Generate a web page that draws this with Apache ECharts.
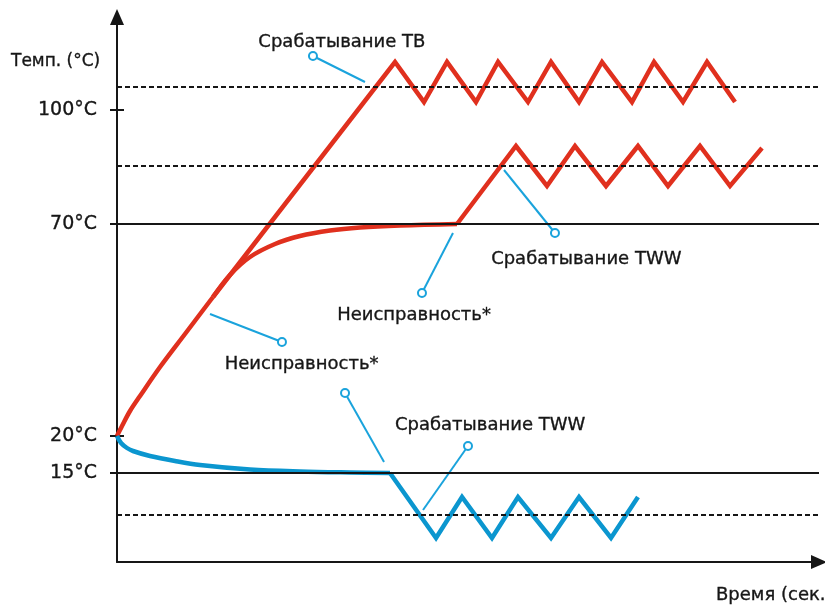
<!DOCTYPE html>
<html><head><meta charset="utf-8">
<script src="https://cdn.jsdelivr.net/npm/echarts@6/dist/echarts.min.js"></script>
<style>html,body{margin:0;padding:0;background:#fff}#c{width:825px;height:606px}</style>
</head><body><div id="c"></div>
<script>
// Schematic units: x = time (arbitrary), y = temperature level (schematic, non-linear labels)
const redTBCurve = [[0,25.2],[0.77,27.2],[2,30.2],[3.54,33.2],[6.62,39],[10.46,45.6],[14.77,53]];
const redTBZig = [[14.77,53],[42.77,100],[47.23,92],[50.77,100],[55.23,92],[58.62,100],[63.23,92],[66.77,100],[71.08,92],[74.62,100],[79.23,92],[82.62,100],[87.08,92],[90.77,100],[95.08,92]];
const redTWWCurve = [[14.77,53],[17.38,57.4],[20.46,61],[24.31,63.6],[28.15,65.2],[32.77,66.3],[37.38,66.9],[43.54,67.3],[52.31,67.6]];
const redTWWZig = [[52.31,67.6],[61.38,83.2],[66.15,75.2],[70.46,83.2],[75.23,75.2],[80.15,83.2],[84.77,75.2],[89.69,83.2],[94.31,75.2],[99.23,82.8]];
const blueCurve = [[0,25.2],[0.62,23.8],[1.54,22.8],[2.46,22.2],[5.08,21.2],[8.92,20.2],[12.77,19.4],[20.46,18.5],[28.15,18.1],[35.85,17.9],[42,17.8]];
const blueZig = [[42,17.8],[49.08,4.8],[53.08,13],[57.69,4.8],[61.69,13],[66.77,4.8],[71.08,13],[76,4.8],[80.15,13]];
const dashedLevels = [95, 79.2, 9.5];
const solidLevels = [67.6, 17.8];
const tickValues = [90.4, 67.6, 25.2, 17.8];
const tickLabels = ['100°C', '70°C', '20°C', '15°C'];
const crossTicks = [90.4, 25.2];
const noteTexts = ['Срабатывание ТВ', 'Срабатывание TWW', 'Неисправность*', 'Неисправность*', 'Срабатывание TWW'];
const notePos = [[34.6,104],[72.2,60.6],[45.7,49.4],[28.4,39.6],[57.4,27.4]];
// leaders: [circle end, line end]
const leaders = [
  [[30.15,101.2],[38.15,96]],
  [[67.38,65.8],[59.54,78.4]],
  [[46.92,53.8],[51.69,65.8]],
  [[25.38,44],[14.31,49.6]],
  [[35.08,33.8],[41.08,20]],
  [[54,23.2],[47.08,10.4]]
];
const xTitle = 'Время (сек.)';
const yTitle = 'Темп. (°C)';

const FONT = 'DejaVu Sans';
const RED = '#e0301e', BLUE = '#0b96cf', LEAD = '#1aa3dc', INK = '#161616';
const TXT = {color: INK, fontFamily: FONT, textBorderColor: INK, textBorderWidth: 0.35, opacity: 1};

const chart = echarts.init(document.getElementById('c'), null, {renderer: 'canvas'});
const series = [];
series.push({
  type: 'line', data: [], silent: true, z: 1,
  markLine: {
    silent: true, symbol: 'none', animation: false,
    label: {show: false},
    data: dashedLevels.map(v => ({yAxis: v, lineStyle: {type: [5, 3], width: 2, color: INK}}))
      .concat(solidLevels.map(v => ({yAxis: v, lineStyle: {type: 'solid', width: 2, color: INK}})))
  }
});
function curve(data, color, smooth) {
  return {type: 'line', data: data, showSymbol: false, symbol: 'none', smooth: smooth ? 0.35 : false,
    silent: true, lineStyle: {color: color, width: 4.5, join: 'miter', cap: 'butt'}, z: 3};
}
series.push(curve(redTBCurve, RED, true));
series.push(curve(redTBZig, RED, false));
series.push(curve(redTWWCurve, RED, true));
series.push(curve(redTWWZig, RED, false));
series.push(curve(blueCurve, BLUE, true));
series.push(curve(blueZig, BLUE, false));
leaders.forEach(l => {
  series.push({
    type: 'line', z: 4, silent: true,
    data: [{value: l[0], symbol: 'emptyCircle', symbolSize: 8}, {value: l[1], symbol: 'none'}],
    showSymbol: true,
    lineStyle: {color: LEAD, width: 2},
    itemStyle: {color: LEAD, borderColor: LEAD, borderWidth: 2}
  });
});
series.push({
  type: 'scatter', z: 5, silent: true,
  symbol: 'circle', symbolSize: 1,
  itemStyle: {color: 'rgba(0,0,0,0)', opacity: 1},
  label: Object.assign({show: true, position: 'inside', formatter: '{b}', fontSize: 18}, TXT),
  data: noteTexts.map((t, i) => ({name: t, value: notePos[i]}))
});

chart.setOption({
  animation: false,
  backgroundColor: '#fff',
  grid: {left: 117, right: 6, top: 17, bottom: 44, containLabel: false},
  xAxis: {
    type: 'value', min: 0, max: 108,
    axisLine: {show: true, onZero: false, symbol: ['none', 'triangle'], symbolSize: [14, 16], lineStyle: {color: INK, width: 2}},
    axisTick: {show: false}, axisLabel: {show: false}, splitLine: {show: false}
  },
  yAxis: [{
    type: 'value', min: 0, max: 109, position: 'left',
    axisLine: {show: true, onZero: false, symbol: ['none', 'triangle'], symbolSize: [14, 16], lineStyle: {color: INK, width: 2}},
    axisTick: {show: true, length: 7, customValues: tickValues, lineStyle: {color: INK, width: 2}},
    axisLabel: Object.assign({show: true, customValues: tickValues, margin: 20, fontSize: 19,
      formatter: v => { const i = tickValues.indexOf(v); return i >= 0 ? tickLabels[i] : ''; }}, TXT),
    splitLine: {show: false}
  }, {
    type: 'value', min: 0, max: 109, position: 'left',
    axisLine: {show: false},
    axisTick: {show: true, inside: true, length: 7, customValues: crossTicks, lineStyle: {color: INK, width: 2}},
    axisLabel: {show: false}, splitLine: {show: false}
  }],
  graphic: [
    {type: 'text', x: 11, y: 62, style: {text: yTitle, fontSize: 17, fontFamily: FONT, fill: INK, stroke: INK, lineWidth: 0.35, verticalAlign: 'middle', align: 'left'}},
    {type: 'text', x: 716, y: 595, style: {text: xTitle, fontSize: 18, fontFamily: FONT, fill: INK, stroke: INK, lineWidth: 0.35, verticalAlign: 'middle', align: 'left'}}
  ],
  series: series
});
</script></body></html>
